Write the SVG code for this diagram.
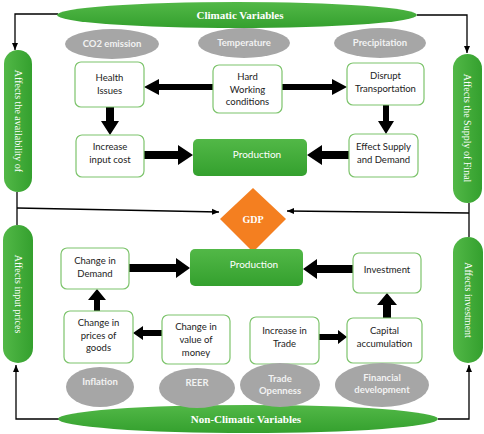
<svg xmlns="http://www.w3.org/2000/svg" width="484" height="434" viewBox="0 0 484 434">
<defs>
<linearGradient id="gg" x1="0" y1="0" x2="0" y2="1">
<stop offset="0" stop-color="#52B847"/>
<stop offset="1" stop-color="#34A02E"/>
</linearGradient>
<linearGradient id="gh" x1="0" y1="0" x2="1" y2="0">
<stop offset="0" stop-color="#52B847"/>
<stop offset="1" stop-color="#34A02E"/>
</linearGradient>
<marker id="ah" markerWidth="8" markerHeight="8" refX="7" refY="4" orient="auto" markerUnits="userSpaceOnUse">
<path d="M0,1 L7,4 L0,7 Z" fill="#000"/>
</marker>
<style>
.box{fill:#fff;stroke:#7DC46C;stroke-width:1.2}
.gray{fill:#A6A6A6}
.pill{fill:url(#gh)}
.prod{fill:url(#gg)}
.bt{font-family:Lato,"Open Sans",sans-serif;font-size:9.5px;fill:#222;text-anchor:middle}
.gt{font-family:Lato,"Open Sans",sans-serif;font-size:9.5px;font-weight:bold;fill:#f2f2f2;text-anchor:middle}
.st{font-family:"Liberation Serif",serif;font-weight:bold;fill:#fff;text-anchor:middle}
.pt{font-family:"Liberation Serif",serif;font-size:10px;fill:#fff;text-anchor:middle}
.pr{font-family:Lato,"Open Sans",sans-serif;font-size:10px;fill:#fff;text-anchor:middle}
.ln{fill:none;stroke:#000;stroke-width:1.3}
.ar{fill:#000}
</style>
</defs>

<g id="connectors">
<path class="ln" d="M58,14 H15 V50" marker-end="url(#ah)"/>
<path class="ln" d="M417,15 H467 V53" marker-end="url(#ah)"/>
<path class="ln" d="M17,192 V225"/>
<path class="ln" d="M17,208 L219,212" marker-end="url(#ah)"/>
<path class="ln" d="M469,203 V237"/>
<path class="ln" d="M469,213 L287,211" marker-end="url(#ah)"/>
<path class="ln" d="M60,419 H16 V365" marker-end="url(#ah)"/>
<path class="ln" d="M438,419 H469 V365" marker-end="url(#ah)"/>
<!-- thick arrows -->
<path class="ar" d="M213,84 H159 V79 L144,87 L159,95 V90 H213 Z"/>
<path class="ar" d="M282,84 H332 V79 L347,87 L332,95 V90 H282 Z"/>
<path class="ar" d="M106,107 V121 H101 L110,135 L119,121 H114 V107 Z"/>
<path class="ar" d="M383,105 V121 H378 L386,134 L394,121 H389 V105 Z"/>
<path class="ar" d="M144,151 H178 V145 L193,155 L178,165 V159 H144 Z"/>
<path class="ar" d="M349,151 H322 V145 L307,155 L322,165 V159 H349 Z"/>
<path class="ar" d="M129,264 H176 V258 L190,268 L176,278 V272 H129 Z"/>
<path class="ar" d="M353,265 H317 V259 L303,269 L317,279 V273 H353 Z"/>
<path class="ar" d="M94,311 V300 H88 L97,289 L106,300 H100 V311 Z"/>
<path class="ar" d="M383,318 V305 H377 L387,293 L397,305 H391 V318 Z"/>
<path class="ar" d="M162,330 H143 V326 L133,333 L143,340 V336 H162 Z"/>
<path class="ar" d="M319,334 H338 V330 L347,337 L338,344 V340 H319 Z"/>
</g>

<g id="climatic">
<ellipse cx="237" cy="15" rx="180" ry="13" fill="url(#gg)"/>
<text class="st" x="240" y="19" font-size="11">Climatic Variables</text>
</g>
<g id="nonclimatic">
<ellipse cx="248" cy="419" rx="190" ry="14" fill="url(#gg)"/>
<text class="st" x="246" y="423" font-size="11">Non-Climatic Variables</text>
</g>

<g id="pill-availability">
<rect class="pill" x="4" y="50" width="28" height="142" rx="14"/>
<text class="pt" transform="translate(18,121) rotate(90)" y="3.5">Affects the availability of</text>
</g>
<g id="pill-input">
<rect class="pill" x="3" y="225" width="30" height="138" rx="15"/>
<text class="pt" transform="translate(18,294) rotate(90)" y="3.5">Affects input prices</text>
</g>
<g id="pill-supply">
<rect class="pill" x="453" y="54" width="29" height="149" rx="14.5"/>
<text class="pt" transform="translate(467.5,128) rotate(90)" y="3.5">Affects the Supply of Final</text>
</g>
<g id="pill-investment">
<rect class="pill" x="453" y="237" width="30" height="126" rx="15"/>
<text class="pt" transform="translate(468,300) rotate(90)" y="3.5">Affects investment</text>
</g>

<g id="co2"><ellipse class="gray" cx="112" cy="44" rx="47" ry="15"/><text class="gt" x="112" y="47">CO2 emission</text></g>
<g id="temperature"><ellipse class="gray" cx="244" cy="43" rx="46" ry="15"/><text class="gt" x="244" y="46">Temperature</text></g>
<g id="precipitation"><ellipse class="gray" cx="380" cy="43" rx="46" ry="15"/><text class="gt" x="380" y="46">Precipitation</text></g>

<g id="health"><rect class="box" x="75" y="62" width="69" height="45" rx="6"/><text class="bt" x="109.5" y="81">Health</text><text class="bt" x="109.5" y="94">Issues</text></g>
<g id="hard"><rect class="box" x="213" y="65" width="69" height="48" rx="6"/><text class="bt" x="247.5" y="80">Hard</text><text class="bt" x="247.5" y="93">Working</text><text class="bt" x="247.5" y="105">conditions</text></g>
<g id="disrupt"><rect class="box" x="347" y="63" width="77" height="42" rx="6"/><text class="bt" x="385.5" y="79">Disrupt</text><text class="bt" x="385.5" y="92">Transportation</text></g>
<g id="inputcost"><rect class="box" x="76" y="135" width="68" height="42" rx="6"/><text class="bt" x="110" y="150">Increase</text><text class="bt" x="110" y="163">input cost</text></g>
<g id="effect"><rect class="box" x="349" y="134" width="69" height="43" rx="6"/><text class="bt" x="383.5" y="150">Effect Supply</text><text class="bt" x="383.5" y="163">and Demand</text></g>

<g id="production-top"><rect class="prod" x="193" y="139" width="114" height="37" rx="5"/><text class="pr" x="257" y="158">Production</text></g>

<g id="gdp"><path d="M253,188 L286,219 L253,252 L220,219 Z" fill="#F47F20"/><text class="st" x="253" y="223" font-size="10">GDP</text></g>

<g id="production-bottom"><rect class="prod" x="190" y="249" width="113" height="37" rx="5"/><text class="pr" x="254" y="268">Production</text></g>

<g id="demand"><rect class="box" x="61" y="248" width="68" height="41" rx="6"/><text class="bt" x="95" y="264">Change in</text><text class="bt" x="95" y="277">Demand</text></g>
<g id="investment"><rect class="box" x="353" y="253" width="68" height="40" rx="6"/><text class="bt" x="387" y="273">Investment</text></g>
<g id="prices"><rect class="box" x="64" y="311" width="69" height="52" rx="6"/><text class="bt" x="98.5" y="326">Change in</text><text class="bt" x="98.5" y="339">prices of</text><text class="bt" x="98.5" y="351">goods</text></g>
<g id="value"><rect class="box" x="162" y="315" width="68" height="49" rx="6"/><text class="bt" x="196" y="330">Change in</text><text class="bt" x="196" y="343">value of</text><text class="bt" x="196" y="356">money</text></g>
<g id="trade"><rect class="box" x="250" y="317" width="69" height="47" rx="6"/><text class="bt" x="284.5" y="334">Increase in</text><text class="bt" x="284.5" y="347">Trade</text></g>
<g id="capital"><rect class="box" x="347" y="318" width="75" height="45" rx="6"/><text class="bt" x="384.5" y="334">Capital</text><text class="bt" x="384.5" y="347">accumulation</text></g>

<g id="inflation"><ellipse class="gray" cx="100" cy="387" rx="34" ry="20"/><text class="gt" x="100" y="385">Inflation</text></g>
<g id="reer"><ellipse class="gray" cx="197" cy="388" rx="38" ry="20"/><text class="gt" x="197" y="386">REER</text></g>
<g id="tradeopen"><ellipse class="gray" cx="280" cy="385" rx="40" ry="22"/><text class="gt" x="280" y="382">Trade</text><text class="gt" x="280" y="394">Openness</text></g>
<g id="financial"><ellipse class="gray" cx="382" cy="385" rx="47" ry="22"/><text class="gt" x="382" y="381">Financial</text><text class="gt" x="382" y="393">development</text></g>
</svg>
